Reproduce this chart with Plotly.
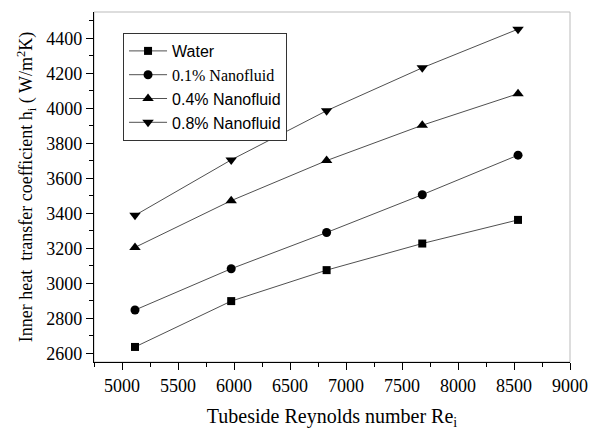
import plotly.graph_objects as go

reynolds = [5116, 5975, 6827, 7681, 8536]
water = [2636, 2898, 3075, 3227, 3362]
nf_01 = [2847, 3083, 3290, 3506, 3732]
nf_04 = [3205, 3472, 3701, 3903, 4083]
nf_08 = [3388, 3705, 3986, 4231, 4452]

series = [
    ("Water", water, "square", 8),
    ('<span style="font-family:Liberation Serif">0.1% Nanofluid</span>', nf_01, "circle", 9),
    ("0.4% Nanofluid", nf_04, "triangle-up", 10),
    ("0.8% Nanofluid", nf_08, "triangle-down", 10),
]

fig = go.Figure()
for name, ys, sym, sz in series:
    fig.add_trace(go.Scatter(
        x=reynolds, y=ys, name=name, mode="lines+markers",
        line=dict(color="#505050", width=1),
        marker=dict(symbol=sym, size=sz, color="black"),
    ))

serif = "Liberation Serif"
fig.update_layout(
    width=595, height=431,
    margin=dict(l=94, r=25, t=12, b=69, autoexpand=False),
    paper_bgcolor="white", plot_bgcolor="white",
    showlegend=True,
    legend=dict(
        x=0.061, y=0.94, xanchor="left", yanchor="top",
        bordercolor="#333", borderwidth=1, bgcolor="white",
        font=dict(family="Liberation Sans", size=16, color="black"),
        tracegroupgap=0, itemwidth=38,
    ),
    font=dict(family=serif, color="black"),
    shapes=[dict(type="rect", xref="paper", yref="paper", x0=0, y0=0, x1=1, y1=1,
                 line=dict(color="#bbbbbb", width=1), layer="below")],
)
fig.update_xaxes(
    range=[4750, 9000], tickmode="linear", tick0=5000, dtick=500, automargin=False,
    ticks="outside", ticklen=7, tickcolor="black", tickwidth=1,
    minor=dict(ticks="outside", ticklen=4, dtick=250, tick0=4750, tickcolor="black"),
    showline=True, linecolor="black", linewidth=1.2, showgrid=False, zeroline=False,
    tickfont=dict(family=serif, size=18, color="black"),
    title=dict(text="Tubeside Reynolds number Re<sub>i</sub>",
               font=dict(family=serif, size=20, color="black"), standoff=14),
)
fig.update_yaxes(
    range=[2550, 4550], tickmode="linear", tick0=2600, dtick=200, automargin=False,
    ticks="outside", ticklen=7, tickcolor="black", tickwidth=1,
    minor=dict(ticks="outside", ticklen=4, dtick=100, tick0=2600, tickcolor="black"),
    showline=True, linecolor="black", linewidth=1.2, showgrid=False, zeroline=False,
    tickfont=dict(family=serif, size=18, color="black"),
    title=dict(text="Inner heat  transfer coefficient h<sub>i</sub> ( W/m<sup>2</sup>K)",
               font=dict(family=serif, size=18, color="black"), standoff=8),
)
fig.write_html("out.html", config={"displayModeBar": False},
               post_script="document.body.style.margin='0px';document.body.style.overflow='hidden';")
